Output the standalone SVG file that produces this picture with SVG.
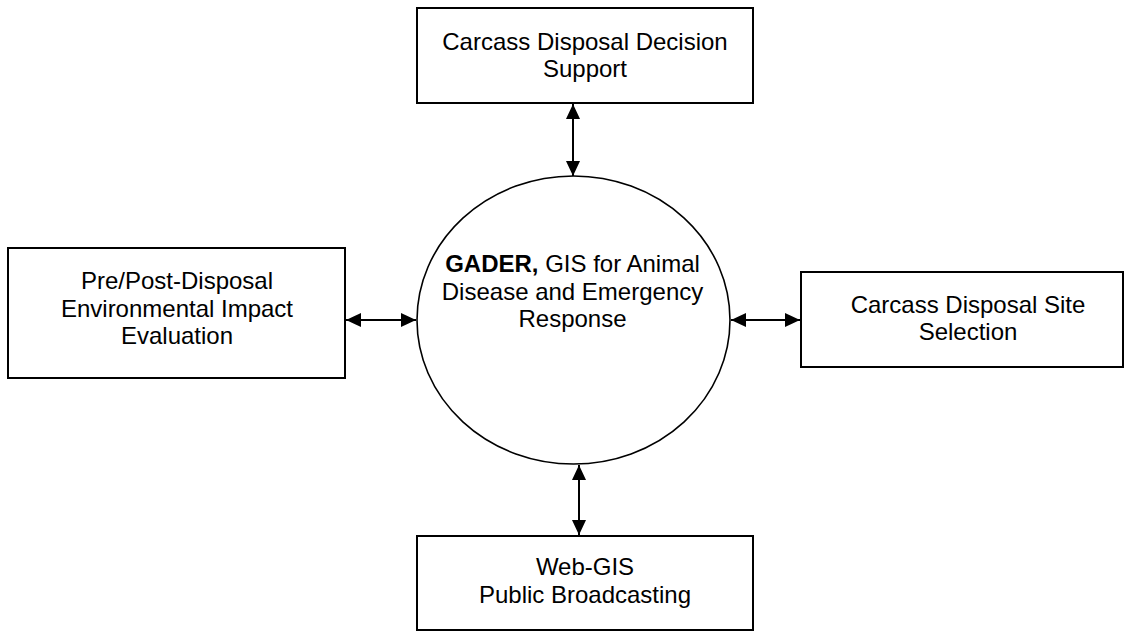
<svg xmlns="http://www.w3.org/2000/svg" width="1126" height="632" viewBox="0 0 1126 632">
  <style>
    .box { fill: #fff; stroke: #000; stroke-width: 2; }
    .hub { fill: #fff; stroke: #000; stroke-width: 1.6; }
    .lbl { font-family: "Liberation Sans", Arial, sans-serif; font-size: 24px; fill: #000; text-anchor: middle; }
    .conn { stroke: #000; stroke-width: 2; fill: none; marker-start: url(#ah); marker-end: url(#ah); }
  </style>
  <defs>
    <marker id="ah" viewBox="0 0 15 14" refX="15" refY="7" markerWidth="15" markerHeight="14" markerUnits="userSpaceOnUse" orient="auto-start-reverse">
      <path d="M0,0 L15,7 L0,14 Z" fill="#000"/>
    </marker>
  </defs>
  <rect width="1126" height="632" fill="#fff"/>

  <g id="connectors">
    <line class="conn" x1="573" y1="104" x2="573" y2="176"/>
    <line class="conn" x1="579" y1="465" x2="579" y2="535"/>
    <line class="conn" x1="346" y1="320" x2="416" y2="320"/>
    <line class="conn" x1="731" y1="320" x2="800" y2="320"/>
  </g>

  <g id="hub">
    <ellipse class="hub" cx="573.5" cy="320" rx="156.5" ry="144"/>
    <text class="lbl" x="572.5" y="272"><tspan font-weight="bold">GADER,</tspan> GIS for Animal</text>
    <text class="lbl" x="572.5" y="299.5">Disease and Emergency</text>
    <text class="lbl" x="572.5" y="327">Response</text>
  </g>

  <g id="decision-support">
    <rect class="box" x="417" y="8" width="336" height="95"/>
    <text class="lbl" x="585" y="49.5">Carcass Disposal Decision</text>
    <text class="lbl" x="585" y="77">Support</text>
  </g>

  <g id="impact-evaluation">
    <rect class="box" x="8" y="248" width="337" height="130"/>
    <text class="lbl" x="177" y="288.5">Pre/Post-Disposal</text>
    <text class="lbl" x="177" y="316.5">Environmental Impact</text>
    <text class="lbl" x="177" y="344">Evaluation</text>
  </g>

  <g id="site-selection">
    <rect class="box" x="801" y="272" width="322" height="95"/>
    <text class="lbl" x="968" y="312.5">Carcass Disposal Site</text>
    <text class="lbl" x="968" y="340">Selection</text>
  </g>

  <g id="web-gis">
    <rect class="box" x="417" y="536" width="336" height="94"/>
    <text class="lbl" x="585" y="575">Web-GIS</text>
    <text class="lbl" x="585" y="603">Public Broadcasting</text>
  </g>
</svg>
